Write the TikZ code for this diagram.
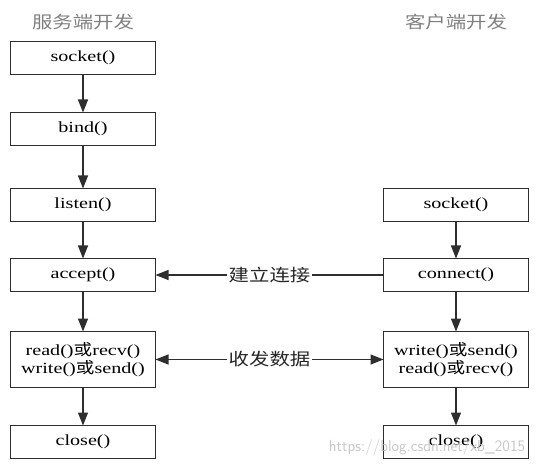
\documentclass[tikz,border=0pt]{standalone}
\usepackage{fontspec}
\setmainfont{Liberation Serif}[FakeStretch=1.3]
\newfontfamily\cjk{Noto Sans CJK SC}[FakeStretch=1.2]
\usepackage{tikz}
\usetikzlibrary{arrows.meta,positioning}
\definecolor{linegray}{HTML}{2E2E2E}
\newcommand{\huo}{{\cjk 或}}
\tikzstyle{arrow}=[
  draw=linegray,
  line width=1.4pt,
]
\tikzstyle{func}=[
  rectangle,
  draw=linegray,
  line width=1.4pt,
  font={\fontsize{15.5}{17.5}\selectfont},
  inner sep=0pt,
  outer sep=0pt,
  minimum height=33pt,
  minimum width=145pt,
  align=center,
]
\tikzstyle{side}=[
  font={\cjk\fontsize{17}{19}\selectfont},
  text=black!50,
]
\tikzstyle{link}=[
  font={\cjk\fontsize{17}{19}\selectfont},
  text=black!85,
  fill=white,
  inner xsep=2pt,
]
\tikzstyle{wmark}=[
  font={\sffamily\fontsize{16}{18}\selectfont},
  text=black!22,
]
\tikzset{
  x=1pt, y=1pt,
  >={Triangle[length=13pt,width=10pt]},
}

\begin{document}
\begin{tikzpicture}
  \useasboundingbox (0,0) rectangle (541,-465);
  % server side
  \node [func] (ssocket) at (83,-58) {socket()};
  \node [func, below=38pt of ssocket] (sbind) {bind()};
  \node [func, below=43pt of sbind] (slisten) {listen()};
  \node [func, below=37pt of slisten] (saccept) {accept()};
  \node [func, minimum height=56pt, below=40pt of saccept] (srw) {read()\huo recv()\\write()\huo send()};
  \node [func, below=38pt of srw] (sclose) {close()};
  \node [side, above=8pt of ssocket] (stitle) {服务端开发};
  % client side
  \node [func, right=228pt of slisten] (csocket) {socket()};
  \node [func, right=228pt of saccept] (cconnect) {connect()};
  \node [func, minimum height=56pt, right=228pt of srw] (crw) {write()\huo send()\\read()\huo recv()};
  \node [func, right=228pt of sclose] (cclose) {close()};
  \node [side] (ctitle) at (stitle -| csocket) {客户端开发};
  \draw [arrow, ->] (ssocket) -- (sbind);
  \draw [arrow, ->] (sbind) -- (slisten);
  \draw [arrow, ->] (slisten) -- (saccept);
  \draw [arrow, ->] (saccept) -- (srw);
  \draw [arrow, ->] (srw) -- (sclose);
  \draw [arrow, ->] (csocket) -- (cconnect);
  \draw [arrow, ->] (cconnect) -- (crw);
  \draw [arrow, ->] (crw) -- (cclose);
  \draw [arrow, ->] (cconnect) -- node [link] (lconnect) {建立连接} (saccept);
  \draw [arrow, <->] (srw) -- node [link] (ldata) {收发数据} (crw);
  \node [wmark, xshift=-29pt, yshift=-5pt] (wm) at (cclose) {https://blog.csdn.net/xb\_2015};
\end{tikzpicture}
\end{document}
